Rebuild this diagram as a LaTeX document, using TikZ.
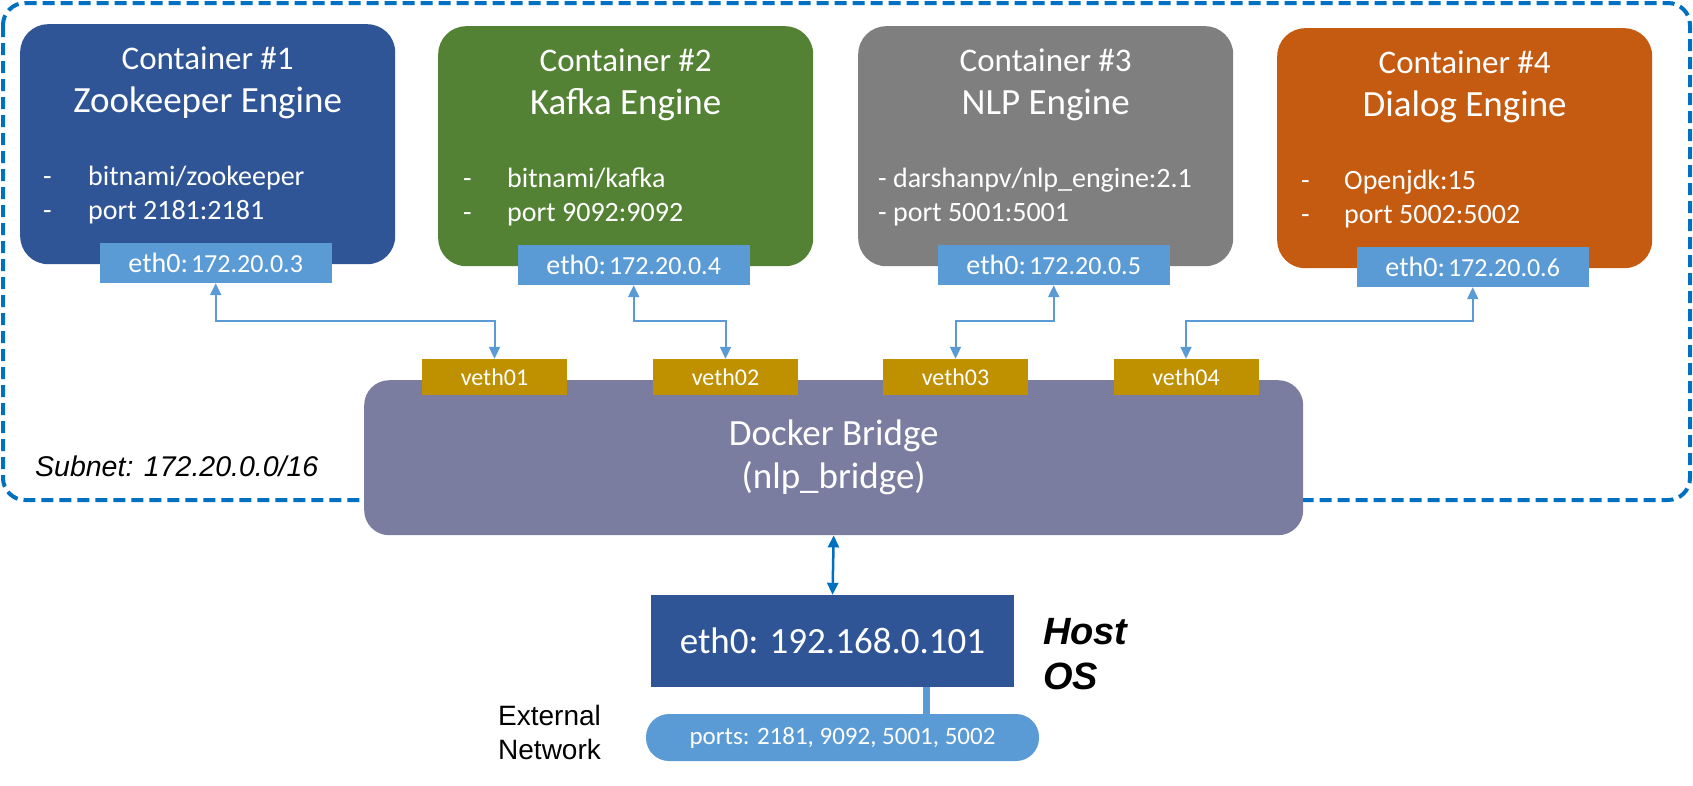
\documentclass[tikz,border=0pt]{standalone}
\usepackage{fontspec}
\setmainfont{Carlito}
\newfontfamily\arialfont{Liberation Sans}
\usetikzlibrary{arrows.meta, positioning, calc}
\definecolor{zkblue}{HTML}{2F5597}
\definecolor{kafkagreen}{HTML}{548235}
\definecolor{nlpgray}{HTML}{7F7F7F}
\definecolor{dialogorange}{HTML}{C55A11}
\definecolor{ethblue}{HTML}{5B9BD5}
\definecolor{vethgold}{HTML}{BF9000}
\definecolor{bridgepurple}{RGB}{122,125,160}
\definecolor{subnetblue}{HTML}{0070C0}
\newcommand{\ethaddr}[1]{{\fontsize{28}{30}\selectfont eth0:} {\fontsize{26}{30}\selectfont #1}}

\begin{document}
\begin{tikzpicture}[x=1pt, y=-1pt,
	container/.style={rectangle, rounded corners=28pt, minimum width=375pt, minimum height=240pt, anchor=north west, inner sep=0pt},
	title_style/.style={text=white, anchor=base, inner sep=0pt, font=\fontsize{33}{36}\selectfont},
	engine_style/.style={text=white, anchor=base, inner sep=0pt, font=\fontsize{37}{40}\selectfont},
	item_style/.style={text=white, anchor=base west, inner sep=0pt, font=\fontsize{28}{30}\selectfont},
	eth_box/.style={rectangle, fill=ethblue, text=white, minimum width=232pt, minimum height=40pt, inner sep=0pt},
	veth_box/.style={rectangle, fill=vethgold, text=white, minimum width=145pt, minimum height=36pt, inner sep=0pt, font=\fontsize{24}{26}\selectfont},
	link/.style={draw=ethblue, line width=2pt, {Triangle[length=12pt, width=11pt]}-{Triangle[length=12pt, width=11pt]}},
	host_link/.style={draw=subnetblue, line width=2.5pt, {Triangle[length=12pt, width=11pt]}-{Triangle[length=12pt, width=11pt]}},
	arial_label/.style={anchor=north west, inner sep=0pt, align=left}
	]
	\useasboundingbox (0,0) rectangle (1693,785);
	
	% --- Subnet frame (dashed) ---
	\draw[subnetblue, line width=4pt, dash pattern=on 12pt off 6pt, rounded corners=22pt] (3,3) rectangle (1690,500);
	\node[arial_label, anchor=base west, font=\arialfont\itshape\fontsize{28.5}{30}\selectfont] (subnet) at (35,476) {Subnet: 172.20.0.0/16};
	
	% --- Container #1 ---
	\node[container, fill=zkblue] (c1) at (20,24) {};
	\node[title_style] (c1_title) at ($(c1.north)+(0,45)$) {Container \#1};
	\node[engine_style] (c1_engine) at ($(c1.north)+(0,88)$) {Zookeeper Engine};
	\node[item_style] (c1_dash_a) at ($(c1.north west)+(23,161)$) {-};
	\node[item_style] (c1_item_a) at ($(c1.north west)+(68,161)$) {bitnami/zookeeper};
	\node[item_style] (c1_dash_b) at ($(c1.north west)+(23,195)$) {-};
	\node[item_style] (c1_item_b) at ($(c1.north west)+(68,195)$) {port 2181:2181};
	\node[eth_box] (eth1) at ($(c1.north)+(8,239)$) {\ethaddr{172.20.0.3}};
	
	% --- Container #2 ---
	\node[container, fill=kafkagreen] (c2) at (438,26) {};
	\node[title_style] (c2_title) at ($(c2.north)+(0,45)$) {Container \#2};
	\node[engine_style] (c2_engine) at ($(c2.north)+(0,88)$) {Kafka Engine};
	\node[item_style] (c2_dash_a) at ($(c2.north west)+(25,161)$) {-};
	\node[item_style] (c2_item_a) at ($(c2.north west)+(69,161)$) {bitnami/kafka};
	\node[item_style] (c2_dash_b) at ($(c2.north west)+(25,195)$) {-};
	\node[item_style] (c2_item_b) at ($(c2.north west)+(69,195)$) {port 9092:9092};
	\node[eth_box] (eth2) at ($(c2.north)+(8,239)$) {\ethaddr{172.20.0.4}};
	
	% --- Container #3 ---
	\node[container, fill=nlpgray] (c3) at (858,26) {};
	\node[title_style] (c3_title) at ($(c3.north)+(0,45)$) {Container \#3};
	\node[engine_style] (c3_engine) at ($(c3.north)+(0,88)$) {NLP Engine};
	\node[item_style] (c3_item_a) at ($(c3.north west)+(20,161)$) {- darshanpv/nlp\_engine:2.1};
	\node[item_style] (c3_item_b) at ($(c3.north west)+(20,195)$) {- port 5001:5001};
	\node[eth_box] (eth3) at ($(c3.north)+(8,239)$) {\ethaddr{172.20.0.5}};
	
	% --- Container #4 ---
	\node[container, fill=dialogorange] (c4) at (1277,28) {};
	\node[title_style] (c4_title) at ($(c4.north)+(0,45)$) {Container \#4};
	\node[engine_style] (c4_engine) at ($(c4.north)+(0,88)$) {Dialog Engine};
	\node[item_style] (c4_dash_a) at ($(c4.north west)+(24,161)$) {-};
	\node[item_style] (c4_item_a) at ($(c4.north west)+(67,161)$) {Openjdk:15};
	\node[item_style] (c4_dash_b) at ($(c4.north west)+(24,195)$) {-};
	\node[item_style] (c4_item_b) at ($(c4.north west)+(67,195)$) {port 5002:5002};
	\node[eth_box] (eth4) at ($(c4.north)+(8,239)$) {\ethaddr{172.20.0.6}};
	
	% --- Docker bridge with its veth ports ---
	\node[rectangle, rounded corners=25pt, fill=bridgepurple, text=white, anchor=north west, minimum width=939pt, minimum height=155pt, align=center, font=\fontsize{37}{43}\selectfont] (bridge) at (364,380) {Docker Bridge\\(nlp\_bridge)};
	\node[veth_box] (veth1) at (494.5,377) {veth01};
	\node[veth_box] (veth2) at (725.5,377) {veth02};
	\node[veth_box] (veth3) at (955.5,377) {veth03};
	\node[veth_box] (veth4) at (1186,377) {veth04};
	
	% Links from container interfaces to the bridge
	\coordinate (bendrow) at (0,321);
	\draw[link] (eth1.south) -- (eth1.south |- bendrow) -| (veth1.north);
	\draw[link] (eth2.south) -- (eth2.south |- bendrow) -| (veth2.north);
	\draw[link] (eth3.south) -- (eth3.south |- bendrow) -| (veth3.north);
	\draw[link] (eth4.south) -- (eth4.south |- bendrow) -| (veth4.north);
	
	% --- Host OS ---
	\node[rectangle, fill=zkblue, text=white, minimum width=363pt, minimum height=92pt, inner sep=0pt, font=\fontsize{37}{40}\selectfont] (host) at (832.5,641) {eth0: 192.168.0.101};
	\node[rectangle, rounded corners=23pt, fill=ethblue, text=white, minimum width=393pt, minimum height=47pt, inner sep=0pt, font=\fontsize{25}{28}\selectfont] (ports) at (842.5,737.5) {ports: 2181, 9092, 5001, 5002};
	\node[arial_label, font=\arialfont\bfseries\itshape\fontsize{38}{45}\selectfont] (host_os) at (1043,618) {Host\\OS};
	\node[arial_label, font=\arialfont\fontsize{28}{34}\selectfont] (external) at (498,705) {External\\Network};
	
	\draw[host_link] (bridge.south) -- (host.north);
	\coordinate (tap) at (926,0);
	\draw[ethblue, line width=7pt] (tap |- host.south) -- (tap |- ports.north);
	
\end{tikzpicture}
\end{document}
